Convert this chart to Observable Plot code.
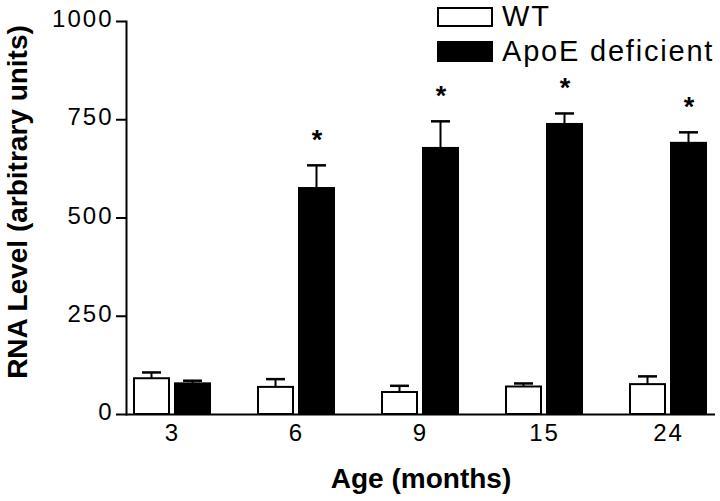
<!DOCTYPE html>
<html><head><meta charset="utf-8">
<script src="https://cdn.jsdelivr.net/npm/d3@7"></script>
<script src="https://cdn.jsdelivr.net/npm/@observablehq/plot@0.6"></script>
<style>
body{margin:0;background:#fff;}
#wrap{position:relative;width:720px;height:501px;font-family:"Liberation Sans",Arial,sans-serif;}
#wrap svg{display:block;}
#wrap svg [aria-label="y-axis tick label"] text, #wrap svg [aria-label="x-axis tick label"] text{letter-spacing:2px;}
.leg{position:absolute;left:437px;height:29px;display:flex;align-items:center;font-size:29px;line-height:29px;letter-spacing:1.8px;color:#000;white-space:nowrap;}
.sw{box-sizing:border-box;width:56px;border:2px solid #000;margin-right:9px;}
</style></head><body><div id="wrap"></div>
<script>
const ages = ["3","6","9","15","24"];
const groups = ["WT","ApoE deficient"];
const wtMean = [91,69,56,70,76];
const wtErr = [16,21,17,9,21];
const apoMean = [78,575,677,738,690];
const apoErr = [8,59,69,28,28];
const apoStar = [false,true,true,true,true];
const yTicks = [0,250,500,750,1000];
const yTitle = "RNA Level (arbitrary units)";
const xTitle = "Age (months)";

const wt = ages.map((a,i)=>({age:a, group:groups[0], mean:wtMean[i], err:wtErr[i], star:false}));
const apo = ages.map((a,i)=>({age:a, group:groups[1], mean:apoMean[i], err:apoErr[i], star:apoStar[i]}));
const errTop = d => d.mean + d.err;

const chart = Plot.plot({
  width: 720, height: 501,
  marginLeft: 126, marginRight: 5, marginTop: 21, marginBottom: 87,
  style: {fontFamily: '"Liberation Sans", Arial, sans-serif', fontSize: "24px", color: "#000", background: "#fff"},
  x: {type: "band", domain: ages, paddingInner: 0.387, paddingOuter: 0.0685, axis: null},
  y: {domain: [0, 1000], axis: null},
  marks: [
    Plot.barY(wt, {x: "age", y1: "mean", y2: errTop, fill: "black", insetLeft: 16.5, insetRight: 57.5}),
    Plot.barY(apo, {x: "age", y1: "mean", y2: errTop, fill: "black", insetLeft: 57.5, insetRight: 16.5}),
    Plot.tickY(wt, {x: "age", y: errTop, stroke: "black", strokeWidth: 2.5, insetLeft: 8, insetRight: 49}),
    Plot.tickY(apo, {x: "age", y: errTop, stroke: "black", strokeWidth: 2.5, insetLeft: 49, insetRight: 8}),
    Plot.barY(wt, {x: "age", y: "mean", fill: "white", stroke: "black", strokeWidth: 2, insetRight: 41}),
    Plot.barY(apo, {x: "age", y: "mean", fill: "black", stroke: "black", strokeWidth: 2, insetLeft: 41}),
    Plot.text(apo.filter(d => d.star), {x: "age", y: errTop, text: () => "*", dx: 20.5, dy: -25, fontSize: 27, fontWeight: "bold"}),
    Plot.axisY({ticks: yTicks, tickSize: 10, tickFormat: () => "", label: null, strokeWidth: 2}),
    Plot.axisY({ticks: yTicks, tickSize: 0, tickPadding: 13, tickFormat: d => String(d), label: null, dy: -2}),
    Plot.frame({anchor: "left", strokeWidth: 2}),
    Plot.ruleY([0], {strokeWidth: 2}),
    Plot.axisX({tickSize: 0, tickPadding: 9, label: null}),
    Plot.text([yTitle], {frameAnchor: "left", text: d => d, textAnchor: "middle", lineAnchor: "middle", rotate: -90, dx: -108, dy: -16, fontSize: 28, fontWeight: "bold"}),
    Plot.text([xTitle], {frameAnchor: "bottom", text: d => d, textAnchor: "middle", lineAnchor: "middle", dy: 65, fontSize: 28, fontWeight: "bold"})
  ]
});
const wrap = document.getElementById("wrap");
wrap.appendChild(chart);

const legTops = [2, 37];
groups.forEach((g, i) => {
  const row = document.createElement("div");
  row.className = "leg";
  row.style.top = legTops[i] + "px";
  const sw = document.createElement("span");
  sw.className = "sw";
  sw.style.height = i === 0 ? "20px" : "21px";
  sw.style.background = i === 0 ? "#fff" : "#000";
  row.appendChild(sw);
  const t = document.createElement("span");
  t.textContent = g;
  row.appendChild(t);
  wrap.appendChild(row);
});
</script>
</body></html>
